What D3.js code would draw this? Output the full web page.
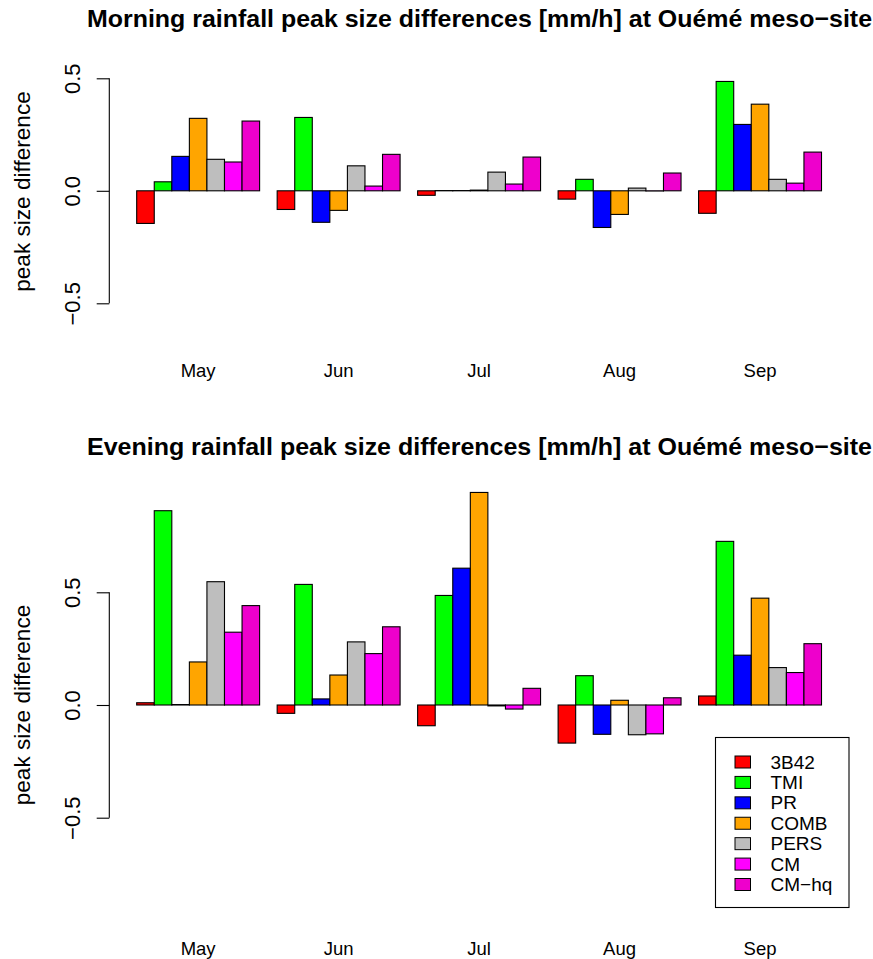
<!DOCTYPE html>
<html><head><meta charset="utf-8">
<script src="https://cdn.jsdelivr.net/npm/d3@7"></script>
<style>html,body{margin:0;padding:0;background:#fff;} svg{display:block;font-family:"Liberation Sans",Arial,Helvetica,sans-serif;}</style>
</head><body>
<script>
// ---- data ----
const months = ["May", "Jun", "Jul", "Aug", "Sep"];
const seriesNames = ["3B42", "TMI", "PR", "COMB", "PERS", "CM", "CM\u2212hq"];
const seriesColors = ["#FF0000", "#00FF00", "#0000FF", "#FFA500", "#BEBEBE", "#FF00FF", "#EE00CC"];
const yTicks = [-0.5, 0.0, 0.5];
const yTickLabels = ["\u22120.5", "0.0", "0.5"];
// morning values: one array per series, across months May..Sep
const morning3B42 = [-0.145, -0.083, -0.020, -0.037, -0.100];
const morningTMI  = [0.040, 0.326, 0.001, 0.051, 0.486];
const morningPR   = [0.153, -0.140, 0.001, -0.163, 0.295];
const morningCOMB = [0.322, -0.087, 0.003, -0.105, 0.385];
const morningPERS = [0.140, 0.111, 0.083, 0.012, 0.051];
const morningCM   = [0.128, 0.021, 0.030, -0.001, 0.034];
const morningCMhq = [0.310, 0.162, 0.150, 0.079, 0.172];
// evening values
const evening3B42 = [0.010, -0.037, -0.092, -0.169, 0.040];
const eveningTMI  = [0.862, 0.535, 0.486, 0.130, 0.726];
const eveningPR   = [0.002, 0.027, 0.607, -0.130, 0.221];
const eveningCOMB = [0.191, 0.133, 0.943, 0.021, 0.474];
const eveningPERS = [0.547, 0.280, -0.004, -0.132, 0.166];
const eveningCM   = [0.323, 0.228, -0.018, -0.128, 0.144];
const eveningCMhq = [0.441, 0.347, 0.074, 0.032, 0.272];

const morning = [morning3B42, morningTMI, morningPR, morningCOMB, morningPERS, morningCM, morningCMhq];
const evening = [evening3B42, eveningTMI, eveningPR, eveningCOMB, eveningPERS, eveningCM, eveningCMhq];

const W = 873, H = 959;
const svg = d3.select("body").append("svg").attr("width", W).attr("height", H);

// x: R barplot units (space 1 before each group of 7)
const x = d3.scaleLinear().domain([-0.56, 41.56]).range([109.3, 848.9]);
const nS = seriesNames.length;

const panels = [
  {title: "Morning rainfall peak size differences [mm/h] at Ou\u00e9m\u00e9 meso\u2212site",
   data: morning, yRange: [303.3, 78.3], titleY: 26.5, monthY: 376.5, labY: 191.5},
  {title: "Evening rainfall peak size differences [mm/h] at Ou\u00e9m\u00e9 meso\u2212site",
   data: evening, yRange: [817.7, 592.3], titleY: 454.5, monthY: 954.5, labY: 705}
];

function fitText(sel, target) {
  const node = sel.node();
  const len = node.getComputedTextLength();
  if (len > 0) sel.attr("textLength", target).attr("lengthAdjust", "spacingAndGlyphs");
}

panels.forEach(p => {
  const y = d3.scaleLinear().domain([-0.5, 0.5]).range(p.yRange);
  const g = svg.append("g");

  // bars
  const bars = [];
  months.forEach((m, mi) => {
    seriesNames.forEach((s, si) => {
      bars.push({mi, si, v: p.data[si][mi]});
    });
  });
  g.selectAll("rect.bar").data(bars).enter().append("rect")
    .attr("class", "bar")
    .attr("x", d => x(d.mi * 8 + 1 + d.si))
    .attr("width", d => x(d.mi * 8 + 2 + d.si) - x(d.mi * 8 + 1 + d.si))
    .attr("y", d => Math.min(y(d.v), y(0)))
    .attr("height", d => Math.abs(y(d.v) - y(0)))
    .attr("fill", d => seriesColors[d.si])
    .attr("stroke", "#000").attr("stroke-width", 1.1);

  // y axis
  const axis = d3.axisLeft(y).tickValues(yTicks).tickSize(12.6).tickFormat((d, i) => yTickLabels[i]);
  const ag = g.append("g").attr("transform", `translate(${x(-0.56)},0)`).call(axis);
  ag.select(".domain").attr("stroke", "#000").attr("stroke-width", 1.1)
    .attr("d", `M-0,${y(0.5)}V${y(-0.5)}`);
  ag.selectAll(".tick line").attr("stroke", "#000").attr("stroke-width", 1.1);
  ag.selectAll(".tick text")
    .attr("x", null).attr("dy", null)
    .attr("transform", `translate(${80 - x(-0.56)},0) rotate(-90)`)
    .attr("text-anchor", "middle")
    .attr("font-size", 22).attr("fill", "#000")
    .attr("font-family", "Liberation Sans, Arial, sans-serif");

  // y label
  g.append("text").text("peak size difference")
    .attr("transform", `translate(30,${p.labY}) rotate(-90)`)
    .attr("text-anchor", "middle").attr("font-size", 22.6).attr("fill", "#000");

  // month labels
  g.selectAll("text.month").data(months).enter().append("text")
    .attr("class", "month")
    .attr("x", (d, i) => x(i * 8 + 1 + nS / 2))
    .attr("y", p.monthY)
    .attr("text-anchor", "middle").attr("font-size", 18.5).attr("fill", "#000")
    .text(d => d);

  // title
  const t = g.append("text").text(p.title)
    .attr("x", 479.5).attr("y", p.titleY)
    .attr("text-anchor", "middle").attr("font-size", 24.5).attr("font-weight", "bold").attr("fill", "#000");
  fitText(t, 785);
});

// legend (bottom panel)
const lg = svg.append("g");
lg.append("rect").attr("x", 715.5).attr("y", 737.5).attr("width", 133.5).attr("height", 170)
  .attr("fill", "#fff").attr("stroke", "#000").attr("stroke-width", 1.1);
const rowY = d3.scaleLinear().domain([0, nS - 1]).range([762, 884.5]);
seriesNames.forEach((s, i) => {
  lg.append("rect").attr("x", 735).attr("y", rowY(i) - 6).attr("width", 15.5).attr("height", 12)
    .attr("fill", seriesColors[i]).attr("stroke", "#000").attr("stroke-width", 1);
  lg.append("text").attr("x", 770.5).attr("y", rowY(i)).attr("dy", "0.35em")
    .attr("font-size", 19).attr("fill", "#000").text(s);
});
</script>
</body></html>
